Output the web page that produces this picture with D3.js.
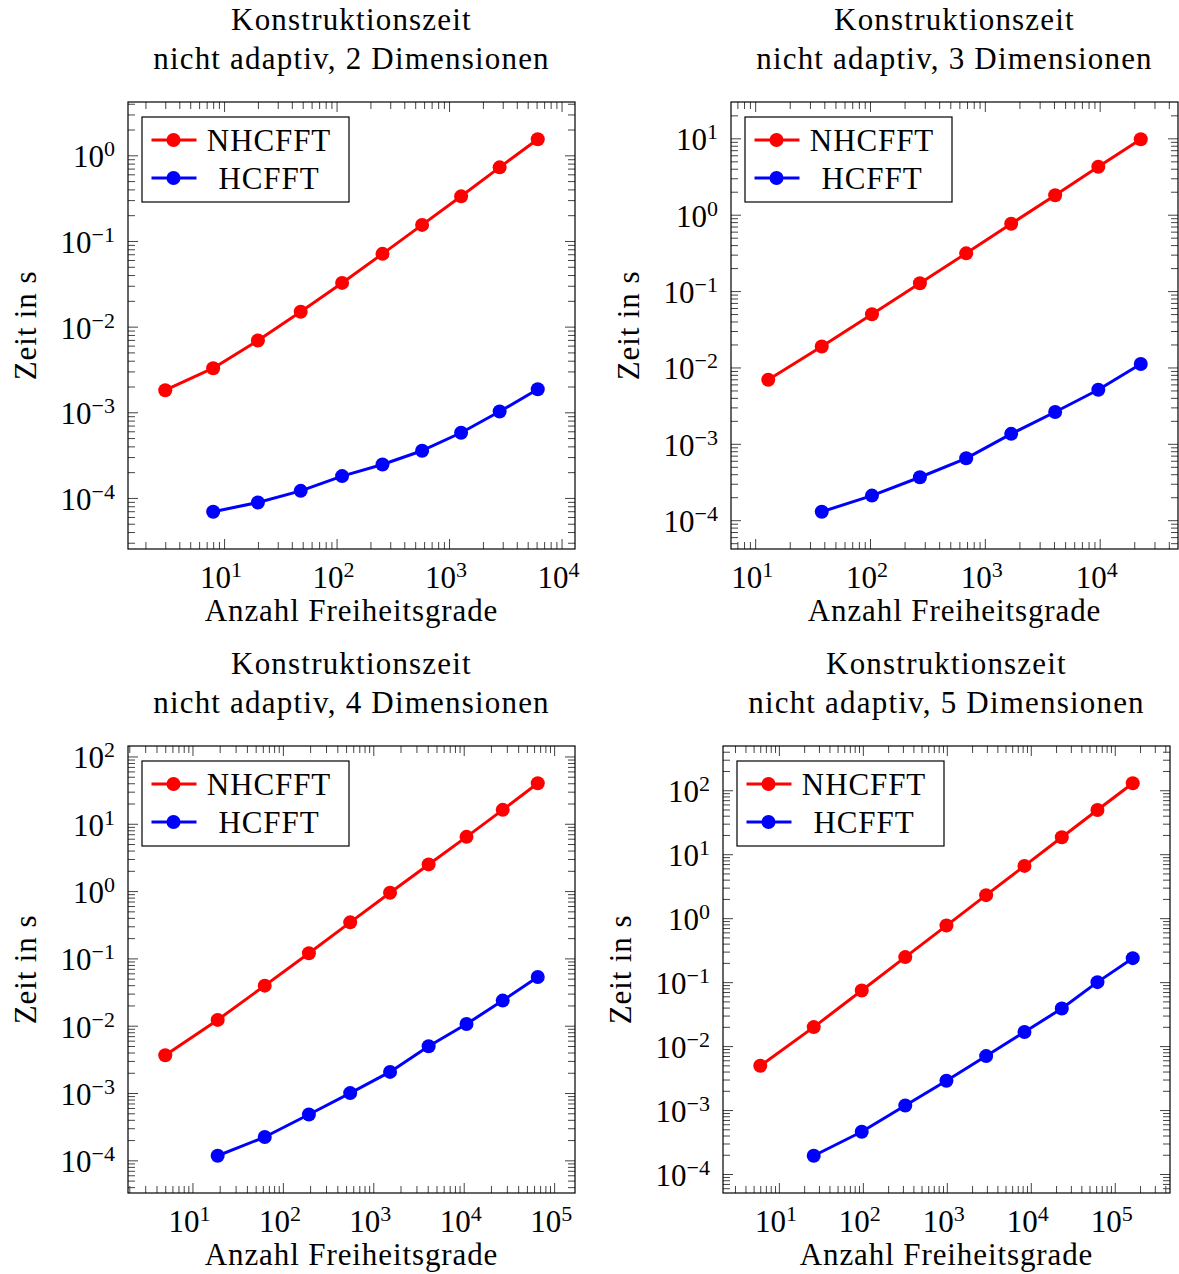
<!DOCTYPE html>
<html lang="de">
<head>
<meta charset="UTF-8">
<title>Konstruktionszeit</title>
<style>
    body { margin: 0; background: #fff; }
    svg text { font-family: 'Liberation Serif', serif; font-size: 31px; fill: #000; }
    .tick line { stroke: #444; stroke-width: 1; }
    .frame { fill: none; stroke: #000; stroke-width: 1.2; }
</style>
</head>
<body>
<div id="chart"></div>
<script src="https://d3js.org/d3.v7.min.js"></script>
<script>
// series names
const seriesNames = ["NHCFFT", "HCFFT"];
const seriesColors = ["#ff0000", "#0000ff"];
const dims = [2, 3, 4, 5];

// 2 Dimensionen
const nhX2 = [3, 8, 20, 48, 112, 256, 576, 1280, 2816, 6144];
const nhY2 = [1.81e-3, 3.27e-3, 6.88e-3, 1.49e-2, 3.24e-2, 7.07e-2, 0.154, 0.332, 0.724, 1.54];
const hX2 = [8, 20, 48, 112, 256, 576, 1280, 2816, 6144];
const hY2 = [6.9e-5, 8.85e-5, 1.21e-4, 1.80e-4, 2.46e-4, 3.56e-4, 5.77e-4, 1.02e-3, 1.86e-3];

// 3 Dimensionen
const nhX3 = [13, 38, 104, 272, 688, 1696, 4096, 9728, 22784];
const nhY3 = [6.89e-3, 1.88e-2, 4.98e-2, 0.1265, 0.312, 0.762, 1.80, 4.24, 9.73];
const hX3 = [38, 104, 272, 688, 1696, 4096, 9728, 22784];
const hY3 = [1.29e-4, 2.10e-4, 3.65e-4, 6.46e-4, 1.35e-3, 2.61e-3, 5.10e-3, 1.11e-2];

// 4 Dimensionen
const nhX4 = [5, 19, 63, 194, 555, 1532, 4093, 10740, 27000, 65900];
const nhY4 = [3.65e-3, 1.22e-2, 3.94e-2, 0.119, 0.343, 0.944, 2.49, 6.39, 16.1, 40.0];
const hX4 = [19, 63, 194, 555, 1532, 4093, 10740, 27000, 65900];
const hY4 = [1.17e-4, 2.22e-4, 4.80e-4, 9.97e-4, 2.06e-3, 4.96e-3, 1.06e-2, 2.36e-2, 5.30e-2];

// 5 Dimensionen
const nhX5 = [6, 26, 97, 320, 990, 2940, 8410, 23400, 62200, 163800];
const nhY5 = [4.92e-3, 1.98e-2, 7.39e-2, 0.246, 0.766, 2.29, 6.56, 18.4, 49.2, 128.6];
const hX5 = [26, 97, 320, 990, 2940, 8410, 23400, 62200, 163800];
const hY5 = [1.93e-4, 4.58e-4, 1.18e-3, 2.87e-3, 6.98e-3, 1.66e-2, 3.87e-2, 0.100, 0.237];

const titleLine1 = "Konstruktionszeit";
const xLabel = "Anzahl Freiheitsgrade";
const yLabel = "Zeit in s";

const panels = [
    { dim: dims[0], left: 128, top: 102, series: [[nhX2, nhY2], [hX2, hY2]] },
    { dim: dims[1], left: 731, top: 102, series: [[nhX3, nhY3], [hX3, hY3]] },
    { dim: dims[2], left: 128, top: 746, series: [[nhX4, nhY4], [hX4, hY4]] },
    { dim: dims[3], left: 723, top: 746, series: [[nhX5, nhY5], [hX5, hY5]] }
];

const width = 447, height = 447;
const majorLen = 10, minorLen = 7;

const svg = d3.select("#chart").append("svg")
    .attr("width", 1179)
    .attr("height", 1274);

svg.append("rect").attr("width", 1179).attr("height", 1274).attr("fill", "#fff");

// pgfplots style: enlarge log range by 10% on each side
function logDomain(values) {
    const lo = Math.log10(d3.min(values)), hi = Math.log10(d3.max(values));
    const pad = (hi - lo) * 0.1;
    return [Math.pow(10, lo - pad), Math.pow(10, hi + pad)];
}

function logTicks(domain) {
    const a = Math.log10(domain[0]), b = Math.log10(domain[1]);
    const major = [], minor = [];
    for (let k = Math.floor(a); k <= Math.ceil(b); k++) {
        const v = Math.pow(10, k);
        if (k >= a && k <= b) major.push(v);
        for (let m = 2; m <= 9; m++) {
            const mv = m * v;
            if (Math.log10(mv) >= a && Math.log10(mv) <= b) minor.push(mv);
        }
    }
    return { major, minor };
}

function powLabel(sel, v) {
    const e = Math.round(Math.log10(v));
    sel.append("tspan").text("10");
    sel.append("tspan")
        .attr("font-size", "22px")
        .attr("dy", -11)
        .text(e < 0 ? "\u2212" + (-e) : String(e));
}

panels.forEach(p => {
    const allX = p.series.flatMap(s => s[0]);
    const allY = p.series.flatMap(s => s[1]);

    const x = d3.scaleLog().domain(logDomain(allX)).range([0, width]);
    const y = d3.scaleLog().domain(logDomain(allY)).range([height, 0]);

    const g = svg.append("g").attr("transform", `translate(${p.left},${p.top})`);

    // title
    const cx = width / 2;
    g.append("text").attr("x", cx).attr("y", -72).attr("text-anchor", "middle")
        .attr("letter-spacing", "1.2px").text(titleLine1);
    g.append("text").attr("x", cx).attr("y", -33).attr("text-anchor", "middle")
        .attr("letter-spacing", "1.2px").text(`nicht adaptiv, ${p.dim} Dimensionen`);

    const xt = logTicks(x.domain());
    const yt = logTicks(y.domain());

    // ticks on all four sides, pointing inward
    const axes = [
        [d3.axisBottom(x), `translate(0,${height})`, xt],
        [d3.axisTop(x), "translate(0,0)", xt],
        [d3.axisLeft(y), "translate(0,0)", yt],
        [d3.axisRight(y), `translate(${width},0)`, yt]
    ];
    axes.forEach(([ax, tr, t]) => {
        [[t.minor, minorLen], [t.major, majorLen]].forEach(([vals, len]) => {
            const a = g.append("g").attr("transform", tr)
                .call(ax.tickValues(vals).tickSize(-len).tickSizeOuter(0).tickFormat(""));
            a.select(".domain").remove();
        });
    });

    // series
    const line = d3.line().x(d => x(d[0])).y(d => y(d[1]));
    p.series.forEach((s, i) => {
        const pts = s[0].map((v, j) => [v, s[1][j]]);
        g.append("path").datum(pts)
            .attr("fill", "none")
            .attr("stroke", seriesColors[i])
            .attr("stroke-width", 3)
            .attr("stroke-linejoin", "round")
            .attr("d", line);
        g.selectAll(null).data(pts).enter().append("circle")
            .attr("cx", d => x(d[0]))
            .attr("cy", d => y(d[1]))
            .attr("r", 7)
            .attr("fill", seriesColors[i]);
    });

    g.append("rect").attr("class", "frame").attr("width", width).attr("height", height);

    // tick labels
    xt.major.forEach(v => {
        const t = g.append("text").attr("x", x(v) - 3).attr("y", height + 39)
            .attr("text-anchor", "middle");
        powLabel(t, v);
    });
    const yLabels = g.append("g");
    yt.major.forEach(v => {
        const t = yLabels.append("text").attr("x", -13).attr("y", y(v) + 12)
            .attr("text-anchor", "end");
        powLabel(t, v);
    });

    g.append("text").attr("x", cx).attr("y", height + 72).attr("text-anchor", "middle")
        .attr("letter-spacing", "0.9px").text(xLabel);

    const bb = yLabels.node().getBBox();
    g.append("text")
        .attr("transform", `translate(${bb.x - 25},${height / 2}) rotate(-90)`)
        .attr("text-anchor", "middle")
        .attr("letter-spacing", "0.9px")
        .text(yLabel);

    // legend
    const lg = g.append("g").attr("transform", "translate(14,15)");
    lg.append("rect").attr("width", 207).attr("height", 85)
        .attr("fill", "#fff").attr("stroke", "#000").attr("stroke-width", 1.2);
    seriesNames.forEach((name, i) => {
        const ly = 23 + i * 38;
        lg.append("line").attr("x1", 9.5).attr("x2", 54.5).attr("y1", ly).attr("y2", ly)
            .attr("stroke", seriesColors[i]).attr("stroke-width", 3);
        lg.append("circle").attr("cx", 31.5).attr("cy", ly).attr("r", 7)
            .attr("fill", seriesColors[i]);
        lg.append("text").attr("x", 127).attr("y", ly + 11).attr("text-anchor", "middle")
            .attr("letter-spacing", "0.9px").text(name);
    });
});
</script>
</body>
</html>
